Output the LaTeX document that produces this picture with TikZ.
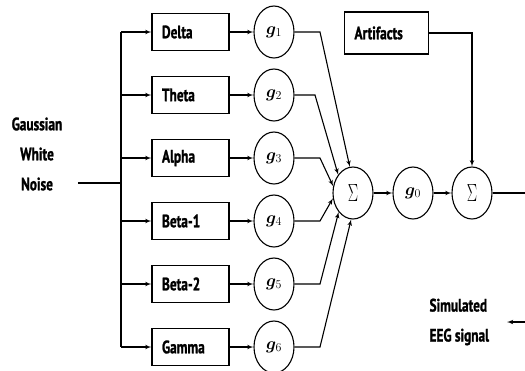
\documentclass[tikz,border=0pt]{standalone}
\usepackage{fontspec}
\setmainfont[FakeStretch=0.74, BoldFeatures={FakeBold=1.2}]{PT Sans}
\usepackage{tikz}
\usetikzlibrary{shapes,arrows}
\usepackage{bm}
\usepackage{mathtools}

\newcommand{\sumsign}{\scalebox{0.62}[1]{\fontsize{30}{30}\selectfont$\Sigma$}}

\begin{document}
\begin{tikzpicture}[x=1pt, y=-1pt, auto, node distance=63pt,
  line/.style={draw, line width=1.1pt, -latex', shorten >= 0pt},
  wire/.style={draw, line width=1.1pt},
  band/.style={rectangle, draw=black, line width=1.1pt, fill=white, text width=57pt, inner xsep=10pt, inner ysep=2pt, minimum height=37pt, align=left, font=\bfseries\fontsize{18}{20}\selectfont},
  gain/.style={ellipse, draw=black, line width=1.1pt, fill=white, minimum width=40pt, minimum height=52pt, inner sep=0pt, font=\fontsize{18}{20}\selectfont},
  label/.style={font=\bfseries\fontsize{18}{30}\selectfont}]
\useasboundingbox (0,0) rectangle (525,370);

\node [band] (delta) at (190.5,32) {Delta};
\node [band, below of = delta] (theta) {Theta};
\node [band, below of = theta] (alpha) {Alpha};
\node [band, below of = alpha] (betaone) {Beta-1};
\node [band, below of = betaone] (betatwo) {Beta-2};
\node [band, below of = betatwo] (gamma) {Gamma};

\node [gain, right of = delta, xshift=20.5pt] (g1) {$\bm{g}_1$};
\node [gain, right of = theta, xshift=20.5pt] (g2) {$\bm{g}_2$};
\node [gain, right of = alpha, xshift=20.5pt] (g3) {$\bm{g}_3$};
\node [gain, right of = betaone, xshift=20.5pt] (g4) {$\bm{g}_4$};
\node [gain, right of = betatwo, xshift=20.5pt] (g5) {$\bm{g}_5$};
\node [gain, right of = gamma, xshift=20.5pt] (g6) {$\bm{g}_6$};

\node [gain] (sum1) at (353,193) {\sumsign};
\node [gain, right of = sum1, xshift=-3pt] (g0) {$\bm{g}_0$};
\node [gain, right of = g0, xshift=-4pt] (sum2) {\sumsign};
\node [band, text width=64pt, minimum height=42pt] (artifacts) at (386.5,33) {Artifacts};

\node [label, align=center] (noise) at (37,154) {Gaussian\\White\\Noise};
\node [label, align=left, anchor=west] (eeg) at (426,322) {Simulated\\EEG signal};

\coordinate (split) at (121,183);
\coordinate (merge) at (320,193);
\coordinate (edgeR) at (525,193);
\coordinate (edgeB) at (525,322);
\coordinate (tipB) at (507,322);

% input and splitting trunk
\path [wire] ([xshift=12pt]noise.east |- split) -- (split);
\path [wire] (split |- delta) -- (split |- gamma);

\begin{scope}[every path/.style=line]
  \path (split |- delta) -- (delta);
  \path (split |- theta) -- (theta);
  \path (split |- alpha) -- (alpha);
  \path (split |- betaone) -- (betaone);
  \path (split |- betatwo) -- (betatwo);
  \path (split |- gamma) -- (gamma);
  \path (delta) -- (g1);
  \path (theta) -- (g2);
  \path (alpha) -- (g3);
  \path (betaone) -- (g4);
  \path (betatwo) -- (g5);
  \path (gamma) -- (g6);
  \path (g1.east) -- (g1.east -| merge) -- (sum1.97);
  \path (g2.east) -- ([xshift=-5pt]g2.east -| merge) -- (sum1.129);
  \path (g3.east) -- (g3.east -| merge) -- (sum1.161);
  \path (g4.east) -- (g4.east -| merge) -- (sum1.195);
  \path (g5.east) -- (g5.east -| merge) -- (sum1.233);
  \path (g6.east) -- (g6.east -| merge) -- (sum1.266);
  \path (sum1) -- (g0);
  \path (g0) -- (sum2);
  \path (artifacts) -| (sum2);
  \path (edgeB) -- (tipB);
\end{scope}
\path [wire] (sum2) -- (edgeR);
\end{tikzpicture}
\end{document}
